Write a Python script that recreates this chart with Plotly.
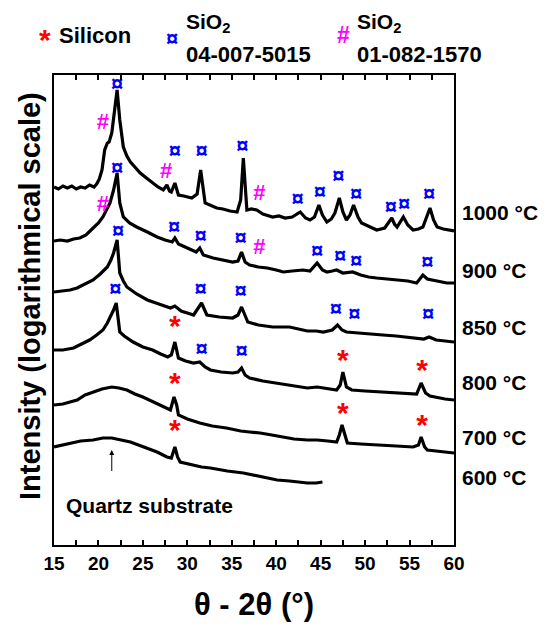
import plotly.graph_objects as go

# 2-theta (deg) vs log-intensity (offset, arbitrary units)
c1000 = [[15,358],[15.5,356],[16,359],[16.5,357],[17,359],[17.5,356],[18,358],[18.5,357],[19,360],[19.5,358],
         [19.8,361],[20.1,366],[20.4,375],[20.7,395],[21.0,402],[21.2,403],[21.5,412],[21.8,435],[22.1,455],[22.4,425],
         [22.8,398],[23.2,389],[23.6,383],[24.1,378],[24.7,372],[25.4,367],[26.1,362],[26.7,358],[27.3,355],[27.7,360],
         [28.0,354],[28.2,353],[28.6,362],[29.0,350],[29.6,349],[30.0,348],[30.5,347],[31.1,351],[31.5,375],[32.0,342],
         [32.6,340],[33.3,337],[34.0,336],[34.8,334],[35.6,333],[36.0,345],[36.3,387],[36.7,335],[37.2,336],[37.8,335],
         [38.5,331],[39.0,330],[39.6,328],[40.3,329],[41.0,327],[41.8,328],[42.7,333],[43.3,327],[43.8,325],[44.3,328],
         [44.8,340],[45.2,330],[45.7,323],[46.2,326],[46.6,332],[47.1,347],[47.5,333],[47.9,325],[48.3,330],[48.7,340],
         [49.2,328],[49.6,322],[50.4,319],[51.3,315],[52.2,317],[53.0,327],[53.3,321],[53.6,318],[54.3,328],[54.8,320],
         [55.4,315],[56.0,316],[56.5,318],[57.3,337],[57.7,325],[58.1,318],[58.8,316],[59.4,315],[60,314]]
c900 = [[15,304],[15.7,305],[16.5,304],[17.2,306],[17.9,307],[18.6,310],[19.4,317],[20.0,322],[20.5,328],[21.0,336],
        [21.3,342],[21.7,355],[22.1,372],[22.4,342],[22.8,328],[23.5,322],[24.3,318],[25.5,313],[26.6,308],[27.5,305],
        [28.3,303],[28.6,307],[29.0,301],[30.0,297],[31.0,293],[31.4,297],[31.8,290],[32.9,287],[34.0,285],[35.1,283],
        [35.7,284],[36.1,293],[36.5,283],[37.0,280],[38.0,278],[39.0,277],[40.0,275],[40.8,273],[41.8,274],[43.0,275],
        [43.8,274],[44.6,282],[45.2,275],[45.7,273],[46.3,274],[46.8,275],[47.5,272],[48.6,273],[49.5,270],[50.4,268],
        [51.3,267],[52.5,266],[53.9,265],[54.8,264],[55.8,262],[56.5,270],[57.0,266],[57.5,265],[58.3,263],[59.2,262],[60,262]]
c850 = [[15,253],[16,254],[16.8,255],[17.6,257],[18.5,261],[19.4,265],[20.2,271],[21.0,278],[21.4,285],[21.7,292],
        [22.1,305],[22.4,272],[22.8,264],[23.2,258],[24.3,251],[25.5,245],[26.8,241],[28.1,237],[28.6,239],[29.3,234],
        [30.0,232],[30.7,230],[31.6,242],[32.2,230],[33.6,228],[35.1,227],[35.7,230],[36.1,238],[36.8,223],[38.0,220],
        [39.6,218],[41.5,218],[43.5,214],[44.5,214],[45.3,213],[46.3,215],[46.9,220],[47.4,215],[47.9,213],[49.0,212],
        [50.5,211],[52.0,210],[53.5,209],[54.8,208],[55.8,207],[56.6,206],[57.2,208],[58.0,205],[59.0,204],[60,203]]
c800 = [[15,195],[16,195],[17.2,197],[18.2,201],[19.0,205],[19.8,210],[20.5,215],[21.0,222],[21.3,227],[21.7,235],
        [22.0,242],[22.4,213],[22.9,209],[23.9,203],[25.0,198],[26.1,195],[27.0,191],[27.8,188],[28.2,190],[28.6,203],
        [29.0,187],[29.8,184],[30.7,182],[31.4,183],[32.0,178],[32.6,175],[33.8,173],[35.1,172],[35.7,173],[36.1,177],
        [36.5,170],[37.0,167],[38.5,164],[40.0,162],[41.5,160],[43.5,157],[44.6,158],[45.8,156],[46.8,155],[47.2,160],
        [47.5,173],[47.9,158],[48.5,155],[50.0,154],[52.0,153],[53.5,152],[55.0,152],[55.8,151],[56.3,162],[56.8,152],
        [57.3,149],[58.2,147],[59.0,146],[60,145]]
c700 = [[15,140],[16,141],[16.8,143],[17.6,145],[18.5,150],[19.4,153],[20.4,156],[21.5,158],[22.3,157],[23.2,155],
        [24.1,151],[25.0,148],[26.0,144],[26.9,140],[27.6,137],[28.1,135],[28.5,148],[28.8,140],[29.0,130],[30.0,126],
        [31.4,122],[32.8,119],[34.4,117],[36.0,114],[37.0,113],[38.2,112],[39.5,110],[40.8,108],[42.0,106],[43.5,105],
        [44.6,105],[45.8,104],[46.8,103],[47.1,110],[47.4,120],[47.8,108],[48.0,102],[49.5,101],[51.0,100],[52.0,100],
        [53.5,99],[55.4,98],[56.0,100],[56.3,108],[56.7,98],[57.0,95],[58.0,94],[59.0,93],[60,92]]
c600 = [[15,98],[16,100],[17,102],[18,104],[19.4,105],[20.5,107],[21.5,107],[22.5,105],[23.6,103],[24.5,100],
        [25.5,97],[26.6,93],[27.7,88],[28.2,87],[28.6,98],[28.9,88],[29.2,83],[30.5,80],[31.6,78],[32.6,77],
        [34.5,74],[36.3,72],[38.0,69],[39.0,67],[40.1,65],[41.5,64],[42.5,63],[43.5,62],[44.5,62],[45.2,63]]

curves = [c1000, c900, c850, c800, c700, c600]
curve_labels = ["1000 °C", "900 °C", "850 °C", "800 °C", "700 °C", "600 °C"]
label_levels = [333, 275, 218, 163, 108, 68]

# peak identification marks [2theta, level]
si_marks = [[28.6,217],[47.5,183],[56.4,173],[28.6,160],[47.5,130],[56.4,118],[28.6,113]]
sio2_a_marks = [[22.1,460],[28.6,393],[31.6,393],[36.2,398],[42.4,345],[44.9,352],[47.0,368],[49.0,350],[52.9,337],
                [54.4,340],[57.2,350],
                [22.1,376],[28.5,317],[31.5,308],[36.0,306],[44.6,293],[47.2,288],[49.0,283],[57.0,282],
                [22.2,313],[31.5,255],[36.0,253],[46.7,235],[48.8,230],[57.1,230],
                [21.9,255],[31.6,195],[36.1,193]]
sio2_b_marks = [[20.5,422],[27.6,373],[38.1,351],[20.5,340],[38.1,297]]

x_ticks = [15, 20, 25, 30, 35, 40, 45, 50, 55, 60]

FONT = "Liberation Sans, Arial, sans-serif"
fig = go.Figure()
for c in curves:
    fig.add_trace(go.Scatter(x=[p[0] for p in c], y=[p[1] for p in c], mode="lines",
                             line=dict(color="black", width=3.2), showlegend=False, hoverinfo="skip"))

def marks(arr, sym, color, size):
    fig.add_trace(go.Scatter(x=[p[0] for p in arr], y=[p[1] for p in arr], mode="text",
                             text=[sym]*len(arr), textposition="middle center",
                             textfont=dict(family=FONT, size=size, color=color, weight="bold"),
                             showlegend=False, hoverinfo="skip"))

marks(si_marks, "*", "#FF0000", 30)
marks(sio2_a_marks, "¤", "#0000FF", 22)
marks(sio2_b_marks, "#", "#FF00FF", 22)

ann = []
for lab, lv in zip(curve_labels, label_levels):
    ann.append(dict(x=1.015, xref="paper", y=lv, yref="y", text=lab, showarrow=False,
                    xanchor="left", yanchor="middle", font=dict(family=FONT, size=21, color="black", weight="bold")))

ann.append(dict(x=21.5, y=95, ax=21.5, ay=64, xref="x", yref="y", axref="x", ayref="y", text=" ",
                showarrow=True, arrowhead=2, arrowsize=1, arrowwidth=1, arrowcolor="black"))
ann.append(dict(x=25.7, y=40, xref="x", yref="y", text="Quartz substrate", showarrow=False,
                font=dict(family=FONT, size=21, color="black", weight="bold")))

# positions given in screen pixels of the plot frame (frame: x 54..454, y 75..545)
def P(px, py):
    return (px - 54) / 400, (545 - py) / 470

legend_items = [
    (45, 40, "*", "#FF0000", 30, "center"),
    (57, 35, "Silicon", "black", 22, "left"),
    (172, 38, "¤", "#0000FF", 22, "center"),
    (184, 23, "SiO<sub>2</sub>", "black", 21, "left"),
    (184, 54, "04-007-5015", "black", 22, "left"),
    (343, 35, "#", "#FF00FF", 23, "center"),
    (355, 23, "SiO<sub>2</sub>", "black", 21, "left"),
    (355, 54, "01-082-1570", "black", 22, "left"),
]
for px, py, t, col, sz, anc in legend_items:
    x, y = P(px, py)
    ann.append(dict(x=x, y=y, xref="paper", yref="paper", text=t, showarrow=False,
                    xanchor=anc, yanchor="middle", font=dict(family=FONT, size=sz, color=col, weight="bold")))

# axis titles
x, y = P(30, 296)
ann.append(dict(x=x, y=y, xref="paper", yref="paper", text="Intensity (logarithmical scale)", textangle=-90,
                showarrow=False, xanchor="center", yanchor="middle",
                font=dict(family=FONT, size=29, color="black", weight="bold")))
x, y = P(254, 604)
ann.append(dict(x=x, y=y, xref="paper", yref="paper", text="θ - 2θ (°)", showarrow=False,
                xanchor="center", yanchor="middle",
                font=dict(family=FONT, size=31, color="black", weight="bold")))

# page body has an 8px margin, so the figure is 8px smaller and shifted
fig.update_layout(
    width=539, height=618, margin=dict(l=46, r=93, t=67, b=81, autoexpand=False),
    paper_bgcolor="white", plot_bgcolor="white",
    annotations=ann, showlegend=False,
    xaxis=dict(range=[15, 60], tickvals=x_ticks, ticks="inside", ticklen=5, tickwidth=1.5,
               tickcolor="black", showline=True, linecolor="black", linewidth=2, mirror="ticks",
               showgrid=False, zeroline=False, automargin=False,
               minor=dict(dtick=2.5, tick0=15, ticks="inside", ticklen=5, tickwidth=1.5, tickcolor="black"),
               tickfont=dict(family=FONT, size=19, color="black", weight="bold")),
    yaxis=dict(range=[0, 470], showticklabels=False, ticks="", showline=True, linecolor="black",
               linewidth=2, mirror=True, showgrid=False, zeroline=False, automargin=False),
)
fig.write_html("out.html")
